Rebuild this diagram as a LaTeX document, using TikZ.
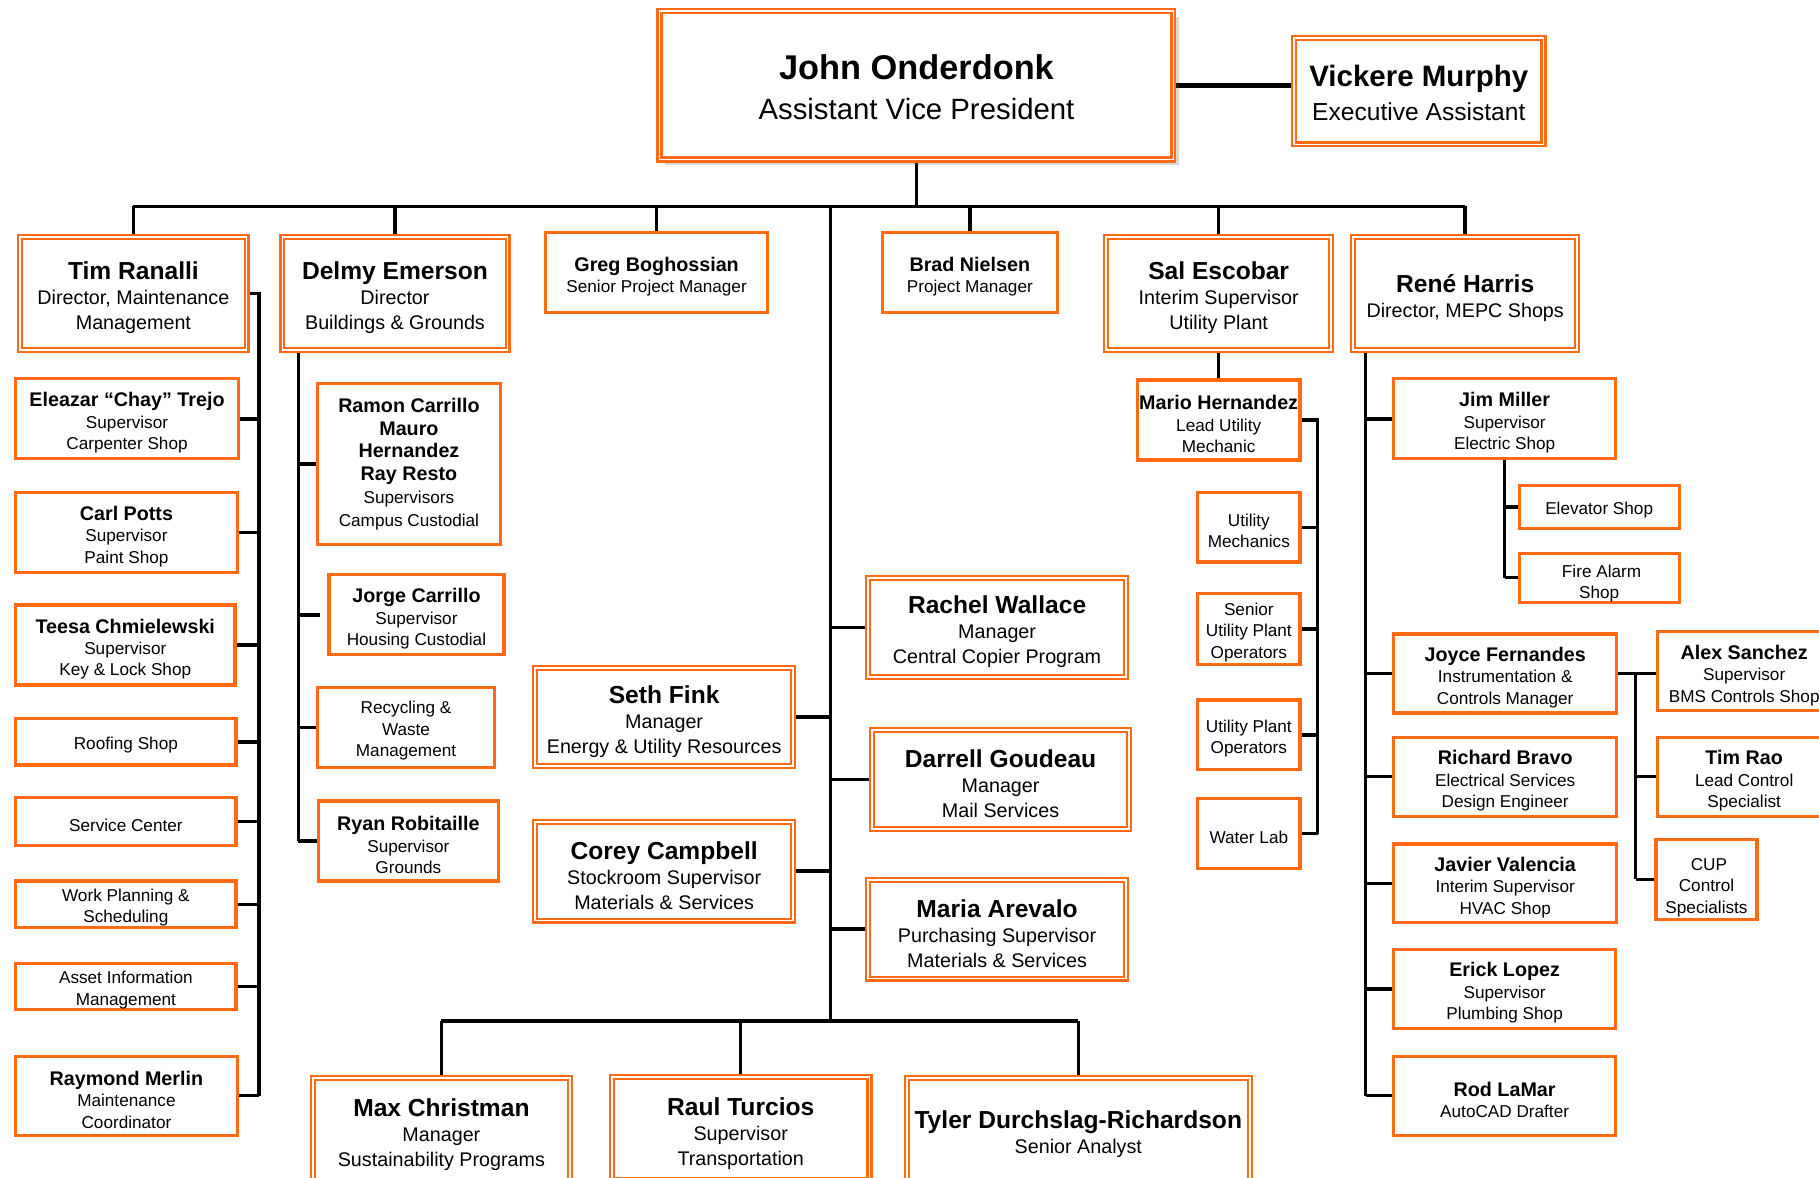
\documentclass[tikz,border=0pt]{standalone}
\usepackage{fontspec}
\setmainfont{Liberation Sans}
\usetikzlibrary{shadows}
\definecolor{orc}{RGB}{255,106,19}
\newcommand\nmJ[1]{{\fontsize{29.6}{34}\selectfont\bfseries\rule{0pt}{25pt}#1}}
\newcommand\nmV[1]{{\fontsize{25.4}{29}\selectfont\bfseries\rule{0pt}{21.5pt}#1}}
\newcommand\nmA[1]{{\fontsize{21.2}{21.5}\selectfont\bfseries\rule{0pt}{23pt}#1}}
\newcommand\nmB[1]{{\fontsize{17}{19}\selectfont\bfseries\rule{0pt}{19.4pt}#1}}
\newcommand\nmC[1]{{\fontsize{17}{19}\selectfont\bfseries #1}}
\newcommand\fs[1][16.8]{\rule{0pt}{#1pt}}
\pgfdeclarelayer{back}
\pgfdeclarelayer{bg}
\pgfsetlayers{back,bg,main}
\begin{document}
\begin{tikzpicture}[x=1pt,y=-1pt,
  dbox/.style={draw=orc, double=white, double distance=1.6pt, line width=1.8pt, fill=white, align=center, inner sep=0pt, font=\fontsize{17}{21.5}\selectfont},
  sbox/.style={draw=orc, line width=2.8pt, fill=white, align=center, inner sep=0pt, font=\fontsize{14.8}{18.5}\selectfont},
  wh/.style n args={2}{minimum width=#1pt, minimum height=#2pt},
  conn/.style={line width=3pt, black}]
\begin{pgfonlayer}{back}
\fill[white] (0,0) rectangle (1568,1014.6);
\end{pgfonlayer}
\useasboundingbox (0,0) rectangle (1568,1014.6);

% top
\node[dbox, wh={443}{128}, font=\fontsize{25.3}{34}\selectfont,
  drop shadow={shadow xshift=5pt, shadow yshift=-5pt, opacity=.25, fill=black!60}] (john) at (790,73.5) {\nmJ{John Onderdonk}\\Assistant Vice President};
\node[dbox, wh={215}{92}, font=\fontsize{21.2}{29}\selectfont] (vick) at (1223,78.5) {\nmV{Vickere Murphy}\\Executive Assistant};

% row 2
\node[dbox, wh={195}{97}] (tim) at (115,253) {\nmA{Tim Ranalli}\\Director, Maintenance\\Management};
\node[dbox, wh={194}{97}] (delmy) at (340.5,253) {\nmA{Delmy Emerson}\\Director\\Buildings \& Grounds};
\node[sbox, wh={191}{69}] (greg) at (566,235) {\nmB{Greg Boghossian}\\Senior Project Manager};
\node[sbox, wh={151}{69}] (brad) at (836,235) {\nmB{Brad Nielsen}\\Project Manager};
\node[dbox, wh={194}{97}] (sal) at (1050.5,253) {\nmA{Sal Escobar}\\Interim Supervisor\\Utility Plant};
\node[dbox, wh={193}{97}] (rene) at (1263,253) {\nmA{René Harris}\\Director, MEPC Shops};

% Tim's column
\node[sbox, wh={192}{69}] (eleazar) at (109.5,361) {\nmB{Eleazar “Chay” Trejo}\\Supervisor\\Carpenter Shop};
\node[sbox, wh={191}{69}] (carl) at (109,459) {\nmB{Carl Potts}\\Supervisor\\Paint Shop};
\node[sbox, wh={189}{69}] (teesa) at (108,556) {\nmB{Teesa Chmielewski}\\Supervisor\\Key \& Lock Shop};
\node[sbox, wh={190}{40}] (roofing) at (108.5,639.5) {\fs Roofing Shop};
\node[sbox, wh={190}{41}] (service) at (108.5,708) {\fs Service Center};
\node[sbox, wh={190}{40}] (workplan) at (108.5,779.5) {\fs Work Planning \&\\Scheduling};
\node[sbox, wh={190}{40}] (asset) at (108.5,850.5) {\fs Asset Information\\Management};
\node[sbox, wh={191}{68}] (raymond) at (109,944.5) {\nmB{Raymond Merlin}\\Maintenance\\Coordinator};

% Delmy's column
\node[sbox, wh={158}{139}, font=\fontsize{14.8}{19.7}\selectfont] (ramon) at (352.5,400) {\nmC{Ramon Carrillo}\\\nmC{Mauro}\\\nmC{Hernandez}\\\nmC{Ray Resto}\\Supervisors\\Campus Custodial};
\node[sbox, wh={151}{69}] (jorge) at (359,530) {\nmB{Jorge Carrillo}\\Supervisor\\Housing Custodial};
\node[sbox, wh={153}{69}] (recycle) at (350,627) {\fs Recycling \&\\Waste\\Management};
\node[sbox, wh={155}{69}] (ryan) at (352,725) {\nmB{Ryan Robitaille}\\Supervisor\\Grounds};

% middle
\node[dbox, wh={222}{85}] (seth) at (572.5,618) {\nmA{Seth Fink}\\Manager\\Energy \& Utility Resources};
\node[dbox, wh={222}{85}] (corey) at (572.5,751) {\nmA{Corey Campbell}\\Stockroom Supervisor\\Materials \& Services};
\node[dbox, wh={222}{85}] (rachel) at (859.5,541) {\nmA{Rachel Wallace}\\Manager\\Central Copier Program};
\node[dbox, wh={222}{85}] (darrell) at (862.5,672) {\nmA{Darrell Goudeau}\\Manager\\Mail Services};
\node[dbox, wh={222}{85}] (maria) at (859.5,801) {\nmA{Maria Arevalo}\\Purchasing Supervisor\\Materials \& Services};

% bottom
\node[dbox, wh={222}{89}] (max) at (380.5,974) {\nmA{Max Christman}\\Manager\\Sustainability Programs};
\node[dbox, wh={222}{89}] (raul) at (638.5,973) {\nmA{Raul Turcios}\\Supervisor\\Transportation};
\node[dbox, wh={296}{89}] (tyler) at (929.5,974) {\nmA{Tyler Durchslag-Richardson}\\Senior Analyst};

% Sal's column
\node[sbox, wh={140}{69}] (mario) at (1050.5,362) {\nmB{Mario Hernandez}\\Lead Utility\\Mechanic};
\node[sbox, wh={88}{60}] (umech) at (1076.5,454.5) {\fs Utility\\Mechanics};
\node[sbox, wh={88}{61}] (supo) at (1076.5,542) {\fs Senior\\Utility Plant\\Operators};
\node[sbox, wh={88}{60}] (upo) at (1076.5,633.5) {\fs Utility Plant\\Operators};
\node[sbox, wh={88}{60}] (water) at (1076.5,718.5) {\fs Water Lab};

% René's column
\node[sbox, wh={191}{69}] (jim) at (1297,361) {\nmB{Jim Miller}\\Supervisor\\Electric Shop};
\node[sbox, wh={138}{37}] (elev) at (1378.5,437) {\fs Elevator Shop};
\node[sbox, wh={138}{41}] (fire) at (1378.5,498) {\fs[20.8] Fire Alarm\\Shop};
\node[sbox, wh={192}{68}] (joyce) at (1297.5,580.5) {\nmB{Joyce Fernandes}\\Instrumentation \&\\Controls Manager};
\node[sbox, wh={192}{68}] (richard) at (1297.5,669.5) {\nmB{Richard Bravo}\\Electrical Services\\Design Engineer};
\node[sbox, wh={192}{68}] (javier) at (1297.5,761.5) {\nmB{Javier Valencia}\\Interim Supervisor\\HVAC Shop};
\node[sbox, wh={191}{68}] (erick) at (1297,852.5) {\nmB{Erick Lopez}\\Supervisor\\Plumbing Shop};
\node[sbox, wh={191}{68}] (rod) at (1297,944.5) {\nmB{Rod LaMar}\\AutoCAD Drafter};
\node[sbox, wh={150}{68}] (alex) at (1503.5,578.5) {\nmB{Alex Sanchez}\\Supervisor\\BMS Controls Shop};
\node[sbox, wh={150}{68}] (timrao) at (1503.5,669.5) {\nmB{Tim Rao}\\Lead Control\\Specialist};
\node[sbox, wh={87}{69}] (cup) at (1471,758) {\fs[24.8] CUP\\Control\\Specialists};

\begin{pgfonlayer}{bg}
\coordinate (busy) at (0,178);
\coordinate (cv) at (716,178);
\coordinate (cb) at (716,880);
\draw[line width=4pt] (john.east) -- (john.east -| vick.west);
\draw[conn] (john.south) -- (john.south |- busy);
\draw[conn] (tim.north |- busy) -- (rene.north |- busy);
\foreach \n in {tim,delmy,greg,brad,sal,rene} \draw[conn] (\n.north |- busy) -- (\n.north);
\draw[conn] (cv) -- (cb);
\draw[conn] (max.north |- cb) -- (tyler.north |- cb);
\foreach \n in {max,raul,tyler} \draw[conn] (\n.north |- cb) -- (\n.north);
\foreach \n in {seth,corey} \draw[conn] (\n.east) -- (\n.east -| cv);
\foreach \n in {rachel,darrell,maria} \draw[conn] (\n.west) -- (\n.west -| cv);
% Tim
\draw[conn] (tim.east) -- ++(10,0) coordinate (ts) -- (ts |- raymond.east);
\foreach \n in {eleazar,carl,teesa,roofing,service,workplan,asset,raymond} \draw[conn] (\n.east) -- (\n.east -| ts);
% Delmy
\coordinate (ds) at ([xshift=14.5pt]delmy.south west);
\draw[conn] (ds) -- (ds |- ryan.west);
\foreach \n in {ramon,recycle,ryan} \draw[conn] (\n.west) -- (\n.west -| ds);
\draw[conn, shorten <=6pt] (jorge.west) -- (jorge.west -| ds);
% Sal
\draw[conn] (sal.south) -- (mario.north);
\draw[conn] (mario.east) -- ++(14,0) coordinate (ms) -- (ms |- water.east);
\foreach \n in {umech,supo,upo,water} \draw[conn] (\n.east) -- (\n.east -| ms);
% Rene
\coordinate (rs) at ([xshift=11.5pt]rene.south west);
\draw[conn] (rs) -- (rs |- rod.west);
\foreach \n in {jim,joyce,richard,javier,erick,rod} \draw[conn] (\n.west) -- (\n.west -| rs);
\draw[conn] (jim.south) -- (jim.south |- fire.west);
\foreach \n in {elev,fire} \draw[conn] (\n.west) -- (\n.west -| jim.south);
% Joyce
\draw[conn] (joyce.east) -- (joyce.east -| alex.west);
\draw[conn] (joyce.east) ++(15,0) coordinate (js) -- (js |- cup.west);
\foreach \n in {timrao,cup} \draw[conn] (\n.west) -- (\n.west -| js);
\end{pgfonlayer}
\end{tikzpicture}
\end{document}
